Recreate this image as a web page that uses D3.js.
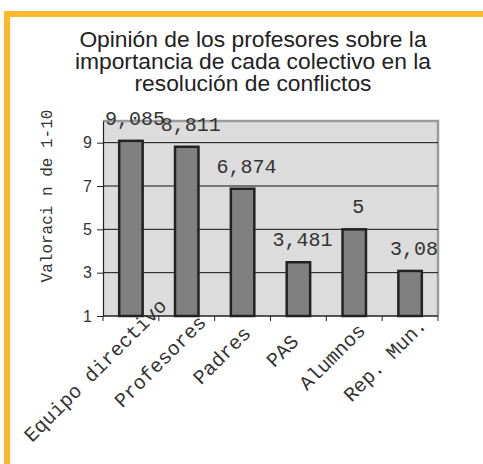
<!DOCTYPE html>
<html>
<head>
<meta charset="utf-8">
<script src="https://cdn.jsdelivr.net/npm/d3@7/dist/d3.min.js"></script>
<style>
  html, body { margin: 0; padding: 0; background: #fff; }
  svg { display: block; }
</style>
</head>
<body>
<svg id="chart" width="483" height="464"></svg>
<script>
const categories = ["Equipo directivo", "Profesores", "Padres", "PAS", "Alumnos", "Rep. Mun."];
const values = [9.085, 8.811, 6.874, 3.481, 5, 3.08];
const valueLabels = ["9,085", "8,811", "6,874", "3,481", "5", "3,08"];
const yTicks = [1, 3, 5, 7, 9];
const titleLines = ["Opinión de los profesores sobre la", "importancia de cada colectivo en la", "resolución de conflictos"];
const yTitle = "Valoraci n de 1-10";

const svg = d3.select("#chart");
const mono = "'Liberation Mono', 'Courier New', monospace";
const sans = "'Liberation Sans', Arial, sans-serif";

// orange frame
svg.append("rect").attr("x", 4).attr("y", 11).attr("width", 479).attr("height", 6).attr("fill", "#FDB92B");
svg.append("rect").attr("x", 4).attr("y", 11).attr("width", 6).attr("height", 453).attr("fill", "#FDB92B");

// title
const title = svg.append("text").attr("x", 253).attr("y", 47)
  .attr("text-anchor", "middle").attr("font-family", sans).attr("font-size", 22.8).attr("fill", "#222");
titleLines.forEach((t, i) => title.append("tspan").attr("x", 253).attr("dy", i === 0 ? 0 : 22).text(t));

const pLeft = 103, pRight = 438, pTop = 121, pBottom = 316;
const x = d3.scaleBand().domain(categories).range([pLeft, pRight]).paddingInner(0.58).paddingOuter(0.29);
const y = d3.scaleLinear().domain([1, 10]).range([pBottom, pTop]);

// plot background
svg.append("rect").attr("x", pLeft).attr("y", pTop).attr("width", pRight - pLeft).attr("height", pBottom - pTop)
  .attr("fill", "#dcdcdc");
// top and right border
svg.append("path").attr("d", `M${pLeft},${pTop}H${pRight}V${pBottom}`).attr("fill", "none")
  .attr("stroke", "#9a9a9a").attr("stroke-width", 2.5);

// gridlines
svg.append("g").selectAll("line").data(yTicks.filter(d => d > 1)).join("line")
  .attr("x1", pLeft).attr("x2", pRight).attr("y1", d => y(d)).attr("y2", d => y(d))
  .attr("stroke", "#111").attr("stroke-width", 1);

// y axis
const yAxis = svg.append("g").attr("transform", `translate(${pLeft},0)`)
  .call(d3.axisLeft(y).tickValues(yTicks).tickSize(6).tickPadding(5).tickSizeOuter(0));
yAxis.select(".domain").attr("stroke", "#222").attr("stroke-width", 1.2);
yAxis.selectAll(".tick line").attr("stroke", "#222");
yAxis.selectAll(".tick text").attr("font-family", sans).attr("font-size", 16).attr("fill", "#333");

// bars
svg.append("g").selectAll("rect").data(values).join("rect")
  .attr("x", (d, i) => x(categories[i]))
  .attr("y", d => y(d))
  .attr("width", x.bandwidth())
  .attr("height", d => y(1) - y(d))
  .attr("fill", "#808080").attr("stroke", "#222").attr("stroke-width", 2.5);

// x axis
const step = x.step();
const boundaries = d3.range(categories.length + 1).map(i => pLeft + i * step);
svg.append("line").attr("x1", pLeft).attr("x2", pRight).attr("y1", pBottom).attr("y2", pBottom)
  .attr("stroke", "#222").attr("stroke-width", 1.5);
svg.append("g").selectAll("line").data(boundaries).join("line")
  .attr("x1", d => d).attr("x2", d => d).attr("y1", pBottom).attr("y2", pBottom + 5)
  .attr("stroke", "#222").attr("stroke-width", 1);

// data labels
svg.append("g").selectAll("text").data(values).join("text")
  .attr("x", (d, i) => x(categories[i]) + x.bandwidth() / 2 + 4)
  .attr("y", d => y(d) - 16)
  .attr("text-anchor", "middle").attr("font-family", mono).attr("font-size", 20).attr("fill", "#333")
  .text((d, i) => valueLabels[i]);

// x labels
const xl = svg.append("g").selectAll("text").data(categories).join("text")
  .attr("text-anchor", "end").attr("font-family", mono).attr("font-size", 20).attr("fill", "#333")
  .text(d => d);
xl.each(function(d) {
  const L = this.getComputedTextLength();
  const cx = x(d) + x.bandwidth() / 2;
  d3.select(this).attr("transform", `translate(${cx - 7},351) rotate(-45)`).attr("x", 0.323 * L);
});

// y title
svg.append("text").attr("transform", "translate(52,196) rotate(-90)")
  .attr("text-anchor", "middle").attr("font-family", mono).attr("font-size", 16).attr("fill", "#333")
  .text(yTitle);
</script>
</body>
</html>
